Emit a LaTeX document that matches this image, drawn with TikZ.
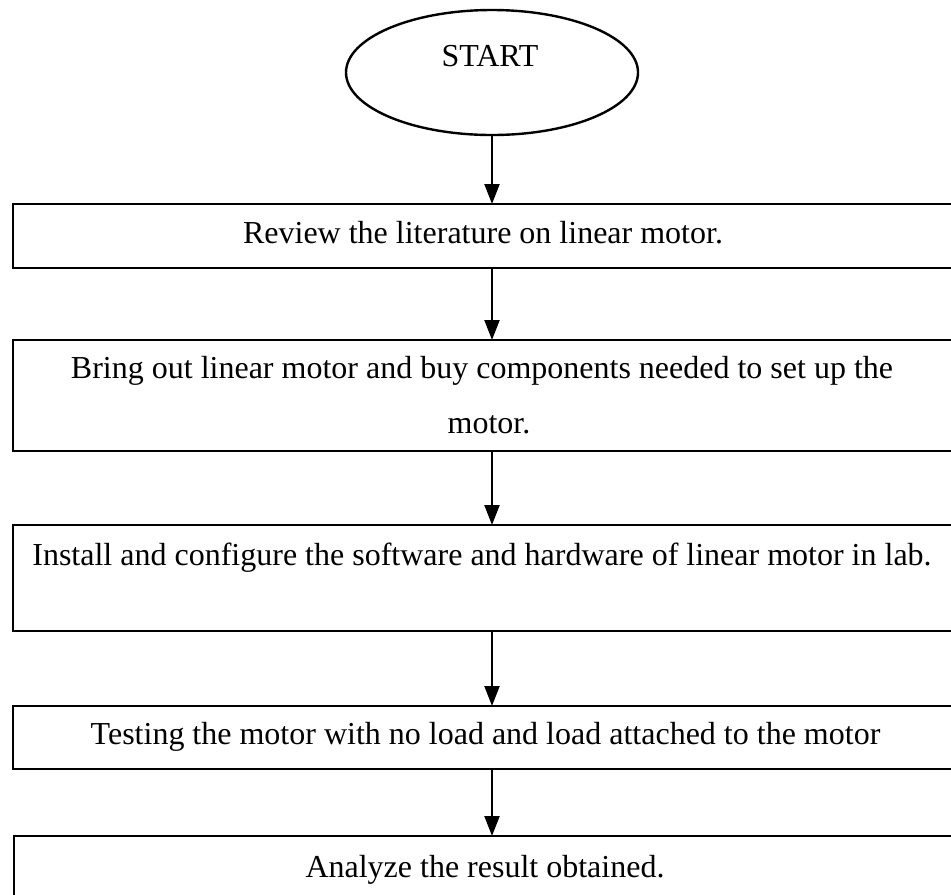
\documentclass[tikz,border=0pt]{standalone}
\usepackage{fontspec}
\setmainfont{Liberation Serif}
\usetikzlibrary{shapes.geometric,arrows.meta}
\begin{document}
\begin{tikzpicture}[x=0.375pt,y=-0.375pt, line width=0.9pt,
  flowbox/.style={draw, rectangle, inner sep=0pt, outer sep=0pt},
  txt/.style={anchor=base, inner sep=0pt, font=\fontsize{12}{14}\selectfont},
  flowarrow/.style={-{Triangle[length=7.5pt,width=5.6pt]}}]
\useasboundingbox (0,0) rectangle (951,894);
\clip (0,0) rectangle (951,894);
\node[draw, ellipse, inner sep=0pt, outer sep=0pt, minimum width={292*0.375pt}, minimum height={125*0.375pt}] (start) at (492,72.5) {};
\node[txt] (starttxt) at (490,66) {START};
\node[flowbox, minimum width={944*0.375pt}, minimum height={64*0.375pt}] (b1) at (485,236) {};
\node[txt] (t1) at (483,243) {Review the literature on linear motor.};
\node[flowbox, minimum width={944*0.375pt}, minimum height={111*0.375pt}] (b2) at (485,395.5) {};
\node[txt] (t2a) at (482,378) {Bring out linear motor and buy components needed to set up the};
\node[txt] (t2b) at (489,433) {motor.};
\node[flowbox, minimum width={944*0.375pt}, minimum height={106*0.375pt}] (b3) at (485,578) {};
\node[txt] (t3) at (482,565) {Install and configure the software and hardware of linear motor in lab.};
\node[flowbox, minimum width={944*0.375pt}, minimum height={63*0.375pt}] (b4) at (485,737.5) {};
\node[txt] (t4) at (485.5,744) {Testing the motor with no load and load attached to the motor};
\node[flowbox, minimum width={943*0.375pt}, minimum height={94*0.375pt}] (b5) at (485.5,883) {};
\node[txt] (t5) at (485,877) {Analyze the result obtained.};
\draw[flowarrow] (start.south) -- (start.south |- b1.north);
\draw[flowarrow] (b1.south -| start.south) -- (b2.north -| start.south);
\draw[flowarrow] (b2.south -| start.south) -- (b3.north -| start.south);
\draw[flowarrow] (b3.south -| start.south) -- (b4.north -| start.south);
\draw[flowarrow] (b4.south -| start.south) -- (b5.north -| start.south);
\end{tikzpicture}
\end{document}
